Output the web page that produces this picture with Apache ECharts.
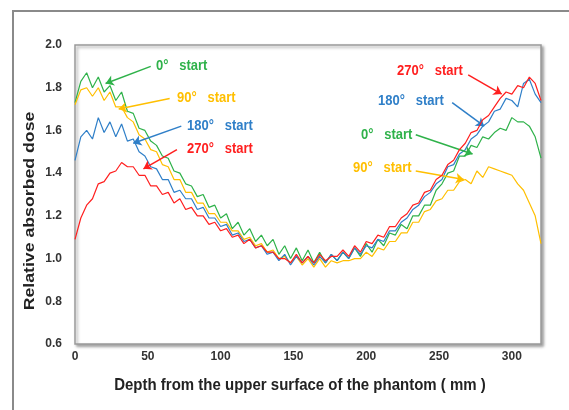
<!DOCTYPE html>
<html>
<head>
<meta charset="utf-8">
<script src="https://cdn.jsdelivr.net/npm/echarts@6/dist/echarts.min.js"></script>
<style>
  html, body { margin: 0; padding: 0; background: #fff; }
  #chart { width: 569px; height: 410px; }
</style>
</head>
<body>
<div id="chart"></div>
<script>
// depth (mm)
const depth = [
  0, 4, 8, 12, 16, 20, 24, 28, 32,
  36, 40, 44, 48, 52, 56, 60, 64, 68,
  72, 76, 80, 84, 88, 92, 96, 100, 104,
  108, 112, 116, 120, 124, 128, 132, 136, 140,
  144, 148, 152, 156, 160, 164, 168, 172, 176,
  180, 184, 188, 192, 196, 200, 204, 208, 212,
  216, 220, 224, 228, 232, 236, 240, 244, 248,
  252, 256, 260, 264, 268, 272, 276, 280, 284,
  288, 292, 296, 300, 304, 308, 312, 316, 320
];

// 0° start
const start0 = [
  1.73, 1.83, 1.87, 1.80, 1.85, 1.78, 1.81, 1.74, 1.78,
  1.69, 1.68, 1.61, 1.60, 1.55, 1.53, 1.48, 1.47, 1.41,
  1.40, 1.35, 1.34, 1.29, 1.30, 1.24, 1.25, 1.19, 1.21,
  1.14, 1.17, 1.11, 1.14, 1.08, 1.11, 1.06, 1.09, 1.02,
  1.06, 1.00, 1.05, 0.99, 1.04, 0.98, 1.03, 0.98, 1.02,
  0.99, 1.03, 1.00, 1.05, 1.01, 1.07, 1.03, 1.09, 1.06,
  1.12, 1.11, 1.16, 1.14, 1.20, 1.20, 1.25, 1.25, 1.32,
  1.35, 1.40, 1.41, 1.48, 1.48, 1.53, 1.52, 1.57, 1.56,
  1.59, 1.61, 1.60, 1.66, 1.64, 1.64, 1.62, 1.57, 1.47
];

// 90° start
const start90 = [
  1.72, 1.79, 1.80, 1.76, 1.80, 1.74, 1.78, 1.71, 1.71,
  1.66, 1.64, 1.58, 1.56, 1.51, 1.50, 1.44, 1.43, 1.37,
  1.37, 1.31, 1.31, 1.26, 1.26, 1.21, 1.21, 1.17, 1.17,
  1.13, 1.13, 1.09, 1.10, 1.06, 1.07, 1.03, 1.04, 1.00,
  1.01, 0.98, 1.01, 0.97, 1.00, 0.96, 1.00, 0.96, 0.99,
  0.98, 0.99, 0.99, 1.00, 1.00, 1.03, 1.01, 1.05, 1.04,
  1.08, 1.08, 1.12, 1.12, 1.17, 1.17, 1.22, 1.23, 1.27,
  1.28, 1.32, 1.32, 1.36, 1.37, 1.35, 1.41, 1.38, 1.43,
  1.42, 1.41, 1.40, 1.39, 1.35, 1.32, 1.26, 1.20, 1.07
];

// 180° start
const start180 = [
  1.46, 1.57, 1.60, 1.56, 1.66, 1.59, 1.64, 1.57, 1.63,
  1.55, 1.56, 1.50, 1.48, 1.43, 1.42, 1.37, 1.37, 1.31,
  1.32, 1.28, 1.28, 1.23, 1.24, 1.19, 1.19, 1.15, 1.16,
  1.11, 1.12, 1.08, 1.09, 1.05, 1.06, 1.02, 1.03, 0.99,
  1.02, 0.97, 1.01, 0.98, 1.01, 0.97, 1.01, 0.98, 1.02,
  0.99, 1.03, 1.00, 1.05, 1.02, 1.06, 1.05, 1.09, 1.08,
  1.13, 1.13, 1.17, 1.19, 1.23, 1.25, 1.29, 1.31, 1.35,
  1.37, 1.43, 1.44, 1.49, 1.51, 1.56, 1.58, 1.62, 1.64,
  1.69, 1.70, 1.75, 1.74, 1.71, 1.82, 1.84, 1.77, 1.73
];

// 270° start
const start270 = [
  1.09, 1.19, 1.25, 1.28, 1.35, 1.36, 1.40, 1.41, 1.45,
  1.43, 1.43, 1.39, 1.39, 1.34, 1.34, 1.30, 1.31, 1.26,
  1.28, 1.23, 1.24, 1.20, 1.20, 1.16, 1.17, 1.13, 1.14,
  1.10, 1.11, 1.07, 1.09, 1.05, 1.06, 1.03, 1.03, 1.00,
  1.00, 0.98, 1.02, 0.98, 1.01, 0.98, 1.02, 0.99, 1.01,
  1.01, 1.04, 1.01, 1.06, 1.03, 1.08, 1.07, 1.11, 1.10,
  1.15, 1.15, 1.19, 1.21, 1.25, 1.26, 1.31, 1.32, 1.37,
  1.39, 1.44, 1.46, 1.51, 1.54, 1.59, 1.60, 1.65, 1.67,
  1.71, 1.75, 1.78, 1.77, 1.81, 1.80, 1.85, 1.82, 1.74
];

const seriesNames = ['0° start', '90° start', '180° start', '270° start'];
const seriesValues = [start0, start90, start180, start270];
const colors = ['#2fb24a', '#ffbf00', '#2f7fc8', '#ff1f1f'];

// arrows in data coords: [from, to] for the left and right annotations
const arrows = [
  [[[52, 1.90], [21, 1.82]], [[234, 1.58], [273, 1.49]]],
  [[[65, 1.75], [30, 1.70]], [[234, 1.41], [267, 1.37]]],
  [[[73, 1.62], [40, 1.54]], [[259, 1.73], [281, 1.62]]],
  [[[70, 1.51], [47, 1.42]], [[270, 1.86], [293, 1.77]]]
];

// label text anchors (pixels)
const labelPos = [
  [[156, 66], [361, 135]],
  [[177, 98], [353, 168]],
  [[187, 126], [378, 101]],
  [[187, 149], [397, 71]]
];
const labelText = ['0°   start', '90°   start', '180°   start', '270°   start'];

const chart = echarts.init(document.getElementById('chart'), null, { renderer: 'canvas' });

const series = seriesValues.map((vals, i) => ({
  name: seriesNames[i],
  type: 'line',
  data: depth.map((d, j) => [d, vals[j]]),
  showSymbol: false,
  symbol: 'none',
  lineStyle: { width: 1.2, color: colors[i] },
  color: colors[i],
  z: 2 + i,
  markLine: {
    silent: true,
    symbol: ['none', 'arrow'],
    symbolSize: 8,
    label: { show: false },
    lineStyle: { type: 'solid', width: 1.5, color: colors[i] },
    data: arrows[i].map(a => [{ coord: a[0] }, { coord: a[1] }])
  }
}));

const graphics = [
  {
    type: 'rect',
    shape: { x: 13, y: 11, width: 700, height: 500 },
    style: { fill: 'none', stroke: '#8a8a8a', lineWidth: 2 },
    silent: true, z: 0
  },
  {
    type: 'text',
    x: 30, y: 211, rotation: Math.PI / 2, scaleX: 1.18,
    style: {
      text: 'Relative absorbed dose',
      font: 'bold 15px "Liberation Sans", Arial, sans-serif',
      fill: '#222', textAlign: 'center', textVerticalAlign: 'middle'
    }
  },
  {
    type: 'text',
    x: 300, y: 385, scaleY: 1.15,
    style: {
      text: 'Depth from the upper surface of the phantom ( mm )',
      font: 'bold 15px "Liberation Sans", Arial, sans-serif',
      fill: '#222', textAlign: 'center', textVerticalAlign: 'middle'
    }
  }
];
labelPos.forEach((pair, i) => {
  pair.forEach(p => {
    graphics.push({
      type: 'text',
      x: p[0], y: p[1], scaleY: 1.15,
      z: 20,
      style: {
        text: labelText[i],
        font: 'bold 13px "Liberation Sans", Arial, sans-serif',
        fill: colors[i], textAlign: 'left', textVerticalAlign: 'middle'
      }
    });
  });
});

chart.setOption({
  animation: false,
  backgroundColor: '#fff',
  grid: {
    left: 75, top: 45, width: 466, height: 299,
    show: true,
    backgroundColor: '#fff',
    borderColor: '#9a9a9a',
    borderWidth: 1.5,
    shadowColor: 'rgba(0,0,0,0.35)',
    shadowBlur: 3,
    shadowOffsetX: 2,
    shadowOffsetY: 2
  },
  xAxis: {
    type: 'value',
    min: 0, max: 320, interval: 50,
    axisLine: { show: false },
    axisTick: { show: false },
    splitLine: { show: false },
    axisLabel: {
      margin: 7,
      color: '#333',
      fontWeight: 'bold',
      fontSize: 12,
      fontFamily: 'Liberation Sans',
      formatter: v => (v % 50 === 0 ? String(v) : '')
    }
  },
  yAxis: {
    type: 'value',
    min: 0.6, max: 2.0, interval: 0.2,
    axisLine: { show: false },
    axisTick: { show: false },
    splitLine: { show: false },
    axisLabel: {
      margin: 13,
      color: '#333',
      fontWeight: 'bold',
      fontSize: 12,
      fontFamily: 'Liberation Sans',
      formatter: v => v.toFixed(1)
    }
  },
  graphic: graphics,
  series: series
});
</script>
</body>
</html>
